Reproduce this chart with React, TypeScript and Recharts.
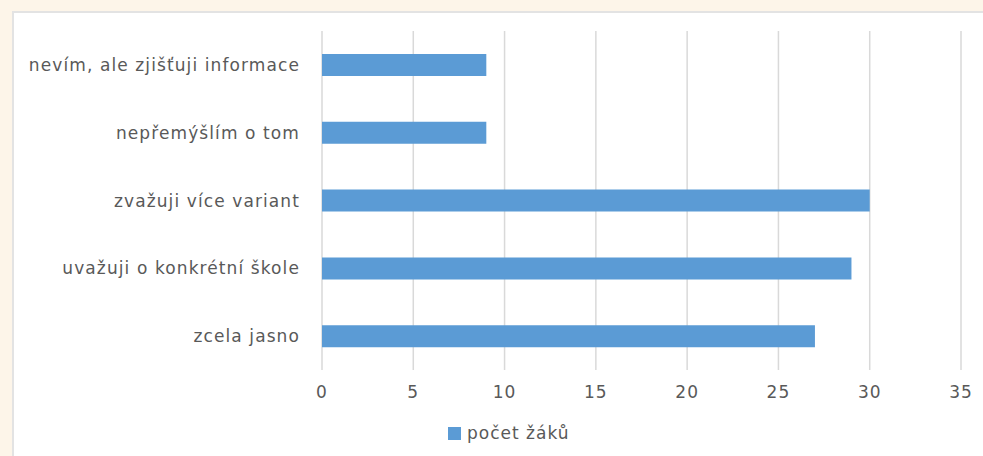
import { Bar, BarChart, CartesianGrid, Legend, XAxis, YAxis } from "recharts"

const categories = [
  "nevím, ale zjišťuji informace",
  "nepřemýšlím o tom",
  "zvažuji více variant",
  "uvažuji o konkrétní škole",
  "zcela jasno",
]
const counts = [9, 9, 30, 29, 27]
const xTicks = [0, 5, 10, 15, 20, 25, 30, 35]
const seriesName = "počet žáků"

const data = categories.map((c, i) => ({ name: c, value: counts[i] }))

const FONT = "'DejaVu Sans', sans-serif"
const TEXT = "#595959"
const BLUE = "#5b9bd5"

function LegendBox() {
  return (
    <div style={{ display: "flex", alignItems: "center", fontFamily: FONT, fontSize: 17, color: TEXT, letterSpacing: 1 }}>
      <span style={{ width: 13, height: 13, background: BLUE, display: "inline-block", marginRight: 6 }} />
      {seriesName}
    </div>
  )
}

export default function App() {
  return (
    <div style={{ position: "absolute", left: 0, top: 0, width: 983, height: 456, background: "#fdf5e9" }}>
      <div
        style={{
          position: "absolute",
          left: 12,
          top: 11,
          width: 971,
          height: 445,
          background: "#fff",
          borderLeft: "2px solid #e3e3e3",
          borderTop: "2px solid #e3e3e3",
          boxSizing: "border-box",
        }}
      >
        <BarChart
          width={969}
          height={443}
          layout="vertical"
          data={data}
          margin={{ top: 18, right: 22, left: 0, bottom: 26 }}
          barSize={22}
        >
          <CartesianGrid horizontal={false} stroke="#d9d9d9" strokeWidth={1.5} />
          <XAxis
            type="number"
            domain={[0, 35]}
            ticks={xTicks}
            axisLine={false}
            tickLine={false}
            tickSize={0}
            tickMargin={16}
            height={40}
            tick={{ fill: TEXT, fontSize: 17, fontFamily: FONT, letterSpacing: 1 }}
          />
          <YAxis
            type="category"
            dataKey="name"
            width={308}
            axisLine={false}
            tickLine={false}
            tickSize={0}
            tickMargin={22}
            tick={{ fill: TEXT, fontSize: 17, fontFamily: FONT, letterSpacing: 1.1 }}
          />
          <Legend
            content={<LegendBox />}
            wrapperStyle={{ position: "absolute", top: 410, left: 434, width: "auto" }}
          />
          <Bar dataKey="value" name={seriesName} fill={BLUE} isAnimationActive={false} />
        </BarChart>
      </div>
    </div>
  )
}
